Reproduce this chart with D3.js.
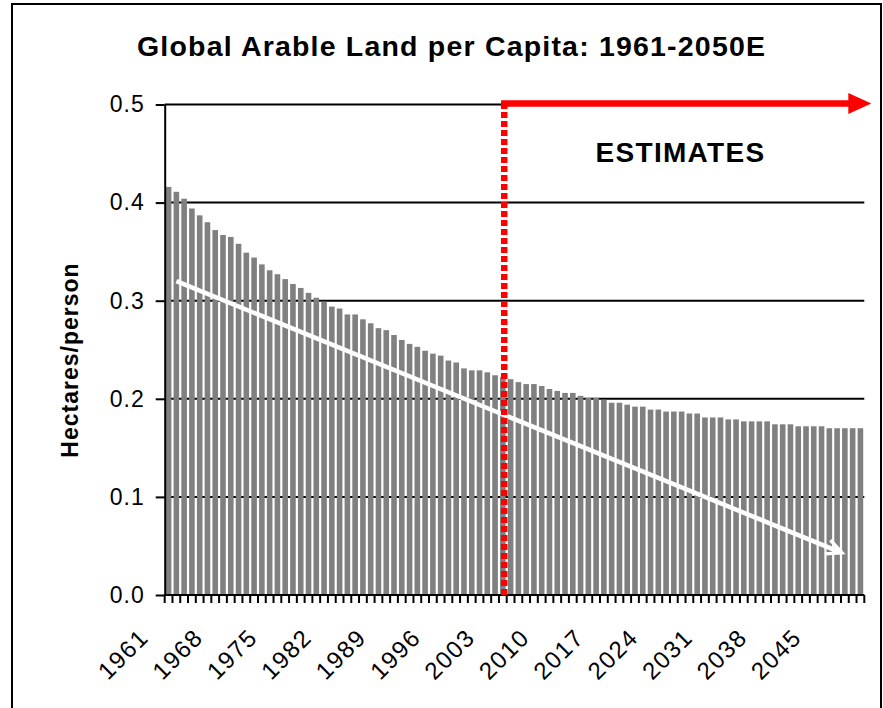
<!DOCTYPE html>
<html>
<head>
<meta charset="utf-8">
<script src="https://cdn.jsdelivr.net/npm/d3@7"></script>
<style>
  body { margin: 0; background: #fff; }
  svg text { font-family: "Liberation Sans", Arial, sans-serif; fill: #000; }
</style>
</head>
<body>
<svg id="chart" width="883" height="708"></svg>
<script>
// jaren 1961 t/m 2050 (categorieen)
let years = d3.range(1961, 2051);

// hectare per persoon
let landPerCapita = [
  0.416, 0.411, 0.404, 0.394, 0.387, 0.380, 0.372, 0.367, 0.365, 0.358,
  0.349, 0.344, 0.337, 0.331, 0.327, 0.322, 0.317, 0.313, 0.308, 0.303,
  0.299, 0.294, 0.292, 0.286, 0.286, 0.281, 0.277, 0.272, 0.270, 0.265,
  0.260, 0.256, 0.253, 0.249, 0.246, 0.244, 0.239, 0.237, 0.231, 0.229,
  0.229, 0.227, 0.224, 0.222, 0.220, 0.217, 0.215, 0.215, 0.213, 0.210,
  0.208, 0.206, 0.206, 0.203, 0.201, 0.201, 0.199, 0.196, 0.196, 0.194,
  0.192, 0.192, 0.189, 0.189, 0.187, 0.187, 0.187, 0.185, 0.185, 0.181,
  0.181, 0.181, 0.179, 0.179, 0.177, 0.177, 0.177, 0.177, 0.174, 0.174,
  0.174, 0.172, 0.172, 0.172, 0.172, 0.170, 0.170, 0.170, 0.170, 0.170
];

let yTicks = [0, 0.1, 0.2, 0.3, 0.4, 0.5];
let yearLabels = [1961, 1968, 1975, 1982, 1989, 1996, 2003, 2010, 2017, 2024, 2031, 2038, 2045];

// eerste geschatte jaar
let estimateStart = 2005;

// witte trendpijl: [jaar, waarde]
let trendStart = [1962, 0.320];
let trendEnd = [2048, 0.043];

let titleText = "Global Arable Land per Capita: 1961-2050E";
let yTitle = "Hectares/person";
let estimateText = "ESTIMATES";

// ===> D3 code
let svg = d3.select("#chart");

let plotLeft = 164.7, plotRight = 864.3, plotTop = 104.5, plotBottom = 595;

let x = d3.scaleBand()
    .domain(years)
    .range([plotLeft, plotRight])
    .paddingInner(0.28)
    .paddingOuter(0.14);

let y = d3.scaleLinear()
    .domain([0, 0.5])
    .range([plotBottom, plotTop]);

// begin van een categorie-vak
function slotStart(year) {
    return x(year) - x.step() * x.paddingInner() / 2;
}

// kader om de grafiek
svg.append("rect")
    .attr("x", 12)
    .attr("y", 4)
    .attr("width", 869)
    .attr("height", 730)
    .attr("fill", "none")
    .attr("stroke", "#000")
    .attr("stroke-width", 2);

// titel
svg.append("text")
    .attr("x", 451)
    .attr("y", 56)
    .attr("text-anchor", "middle")
    .attr("font-size", 28.5)
    .attr("font-weight", "bold")
    .attr("textLength", 628)
    .attr("lengthAdjust", "spacing")
    .text(titleText);

// gridlijnen (achter de staven)
svg.append("g")
    .selectAll("line")
    .data(yTicks.filter(d => d > 0))
    .enter()
    .append("line")
    .attr("x1", plotLeft)
    .attr("x2", plotRight)
    .attr("y1", d => y(d))
    .attr("y2", d => y(d))
    .attr("stroke", "#000")
    .attr("stroke-width", 2);

// staven
svg.append("g")
    .selectAll("rect")
    .data(years)
    .enter()
    .append("rect")
    .attr("x", d => x(d))
    .attr("width", x.bandwidth())
    .attr("y", (d, i) => y(landPerCapita[i]))
    .attr("height", (d, i) => y(0) - y(landPerCapita[i]))
    .attr("fill", "#808080");

// y-as
let yAxis = svg.append("g")
    .attr("transform", "translate(" + plotLeft + ",0)")
    .call(d3.axisLeft(y)
        .tickValues(yTicks)
        .tickFormat(d3.format(".1f"))
        .tickSize(9)
        .tickSizeOuter(0)
        .tickPadding(11));
yAxis.select(".domain").attr("stroke-width", 2);
yAxis.selectAll(".tick line").attr("stroke-width", 2);
yAxis.selectAll(".tick text")
    .attr("font-size", 23)
    .attr("letter-spacing", 1)
    .attr("font-family", "Liberation Sans, Arial, sans-serif");

// x-as lijn + streepjes tussen de categorieen
let xAxis = svg.append("g");
xAxis.append("line")
    .attr("x1", plotLeft - 1)
    .attr("x2", plotRight)
    .attr("y1", plotBottom)
    .attr("y2", plotBottom)
    .attr("stroke", "#000")
    .attr("stroke-width", 2);

let boundaries = years.map(slotStart).concat([plotRight]);
xAxis.selectAll("line.tick")
    .data(boundaries)
    .enter()
    .append("line")
    .attr("class", "tick")
    .attr("x1", d => d)
    .attr("x2", d => d)
    .attr("y1", plotBottom)
    .attr("y2", plotBottom + 8)
    .attr("stroke", "#000")
    .attr("stroke-width", 2);

xAxis.selectAll("text")
    .data(yearLabels)
    .enter()
    .append("text")
    .attr("transform", d => "translate(" + (x(d) + x.bandwidth() / 2 - 18.5) + "," + 639 + ") rotate(-45)")
    .attr("text-anchor", "end")
    .attr("font-size", 24)
    .attr("letter-spacing", 1.5)
    .text(d => d);

// y-as titel
svg.append("text")
    .attr("transform", "translate(70,360) rotate(-90)")
    .attr("text-anchor", "middle")
    .attr("dy", "0.36em")
    .attr("font-size", 23)
    .attr("font-weight", "bold")
    .attr("letter-spacing", 1)
    .text(yTitle);

// witte trendpijl
let tx1 = x(trendStart[0]) + x.bandwidth() / 2, ty1 = y(trendStart[1]);
let tx2 = x(trendEnd[0]) + x.bandwidth() / 2 - 3, ty2 = y(trendEnd[1]);
let ang = Math.atan2(ty2 - ty1, tx2 - tx1);
let headLen = 17, headAng = 0.45;

svg.append("line")
    .attr("x1", tx1).attr("y1", ty1)
    .attr("x2", tx2).attr("y2", ty2)
    .attr("stroke", "#fff")
    .attr("stroke-width", 4.5);

svg.append("path")
    .attr("d", "M" + (tx2 - headLen * Math.cos(ang - headAng)) + "," + (ty2 - headLen * Math.sin(ang - headAng)) +
               "L" + tx2 + "," + ty2 +
               "L" + (tx2 - headLen * Math.cos(ang + headAng)) + "," + (ty2 - headLen * Math.sin(ang + headAng)))
    .attr("fill", "none")
    .attr("stroke", "#fff")
    .attr("stroke-width", 3.5);

// rode lijn: start schattingen
let xEst = slotStart(estimateStart) - 2.5;

svg.append("line")
    .attr("x1", xEst).attr("x2", xEst)
    .attr("y1", y(0)).attr("y2", y(0.5))
    .attr("stroke", "#ff0000")
    .attr("stroke-width", 6.5)
    .attr("stroke-dasharray", "6,3");

let tipX = plotRight + 7;
svg.append("line")
    .attr("x1", xEst - 3.2).attr("x2", tipX - 20)
    .attr("y1", y(0.5) - 1).attr("y2", y(0.5) - 1)
    .attr("stroke", "#ff0000")
    .attr("stroke-width", 6.5);

svg.append("path")
    .attr("d", "M" + tipX + "," + (y(0.5) - 1) +
               "L" + (tipX - 23) + "," + (y(0.5) - 11.5) +
               "L" + (tipX - 23) + "," + (y(0.5) + 9.5) + "Z")
    .attr("fill", "#ff0000");

// ESTIMATES tekst
svg.append("text")
    .attr("x", 680.5)
    .attr("y", 162)
    .attr("text-anchor", "middle")
    .attr("font-size", 28)
    .attr("font-weight", "bold")
    .attr("letter-spacing", 1.3)
    .text(estimateText);
</script>
</body>
</html>
